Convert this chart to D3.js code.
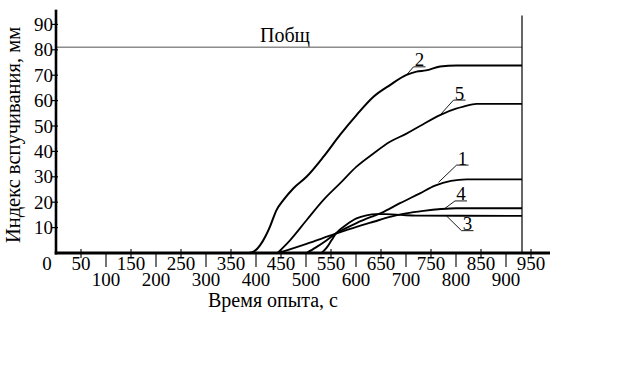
<!DOCTYPE html>
<html>
<head>
<meta charset="utf-8">
<script src="https://cdn.jsdelivr.net/npm/d3@7/dist/d3.min.js"></script>
<style>
  html, body { margin: 0; padding: 0; background: #fff; }
  svg { display: block; }
  text { font-family: "Liberation Serif", "Times New Roman", serif; fill: #000; }
</style>
</head>
<body>
<svg id="chart" width="623" height="367"></svg>
<script>
// ---- data ----
const xTicksTop = [50, 150, 250, 350, 450, 550, 650, 750, 850, 950];
const xTicksBottom = [100, 200, 300, 400, 500, 600, 700, 800, 900];
const yTicks = [10, 20, 30, 40, 50, 60, 70, 80, 90];
const pTotal = 81;          // Побщ level
const tEnd = 932;           // end of the test (right border)

const series2T = [385, 395, 408, 420, 428, 441, 455, 475, 501, 535, 568, 601, 635, 668, 701, 721, 740, 768, 801, 932];
const series2V = [0, 0.5, 3.0, 7.0, 10.4, 16.9, 20.9, 25.5, 30.0, 37.9, 46.5, 54.3, 61.5, 66.1, 70.1, 71.4, 71.9, 73.4, 73.8, 73.8];

const series5T = [443, 468, 501, 535, 568, 601, 635, 668, 701, 728, 768, 800, 815, 841, 932];
const series5V = [0, 5.0, 12.9, 20.9, 27.4, 34.0, 39.2, 43.8, 47.0, 50.0, 54.3, 56.8, 57.6, 58.7, 58.7];

const series1T = [501, 520, 540, 558, 580, 601, 630, 651, 688, 728, 758, 790, 821, 932];
const series1V = [0, 2.2, 4.8, 7.5, 9.8, 11.8, 14.2, 15.8, 19.6, 23.5, 26.5, 28.4, 29.0, 29.0];

const series3T = [531, 541, 551, 560, 580, 601, 621, 640, 660, 690, 720, 932];
const series3V = [0, 2.0, 5.0, 7.7, 11.0, 13.6, 14.8, 15.3, 15.3, 15.0, 14.7, 14.6];

const series4T = [445, 501, 558, 601, 635, 668, 700, 735, 770, 800, 932];
const series4V = [0, 3.6, 7.5, 10.3, 12.3, 14.2, 15.6, 16.6, 17.3, 17.6, 17.6];

const seriesNames = ["2", "5", "1", "3", "4"];
const labelAnchorT = [701, 768, 765, 781, 778];
const labelAnchorV = [70.1, 54.3, 27.8, 14.6, 17.6];
const labelTextT = [715, 795, 801, 811, 798];
const labelTextV = [73.3, 60.2, 34.6, 8.8, 20.5];

const xTitle = "Время опыта, с";
const yTitle = "Индекс вспучивания, мм";
const pLabel = "Побщ";

// ---- drawing ----
const svg = d3.select("#chart");
const x = d3.scaleLinear().domain([0, 950]).range([56, 531]);
const y = d3.scaleLinear().domain([0, 90]).range([253, 24.4]);

// Побщ line
svg.append("line")
  .attr("x1", x(0)).attr("x2", x(tEnd))
  .attr("y1", y(pTotal)).attr("y2", y(pTotal))
  .attr("stroke", "#8c8c8c").attr("stroke-width", 1.6);
svg.append("text").attr("x", 285).attr("y", y(pTotal) - 5)
  .attr("text-anchor", "middle").attr("font-size", 20).text(pLabel);

// right border
svg.append("line")
  .attr("x1", x(tEnd)).attr("x2", x(tEnd))
  .attr("y1", y(93.5)).attr("y2", y(0))
  .attr("stroke", "#000").attr("stroke-width", 1.2);

// curves
const line = d3.line().x(d => x(d[0])).y(d => y(d[1])).curve(d3.curveMonotoneX);
const allSeries = [
  [series2T, series2V, 2.0],
  [series5T, series5V, 1.8],
  [series1T, series1V, 1.9],
  [series3T, series3V, 1.9],
  [series4T, series4V, 1.9]
];
allSeries.forEach(([T, V, w]) => {
  svg.append("path")
    .attr("d", line(T.map((t, i) => [t, V[i]])))
    .attr("fill", "none").attr("stroke", "#000")
    .attr("stroke-width", w).attr("stroke-linejoin", "round");
});

// curve labels with leaders
seriesNames.forEach((n, i) => {
  const ax = x(labelAnchorT[i]), ay = y(labelAnchorV[i]);
  const lx = x(labelTextT[i]), ly = y(labelTextV[i]);
  svg.append("path")
    .attr("d", `M${ax},${ay}L${lx},${ly}L${lx + 12},${ly}`)
    .attr("fill", "none").attr("stroke", "#000").attr("stroke-width", 0.9);
  svg.append("text").attr("x", lx + 6).attr("y", ly - 0.5)
    .attr("text-anchor", "middle").attr("font-size", 19).text(n);
});

// y axis
svg.append("line")
  .attr("x1", x(0)).attr("x2", x(0))
  .attr("y1", y(95.8)).attr("y2", y(0) + 1.5)
  .attr("stroke", "#000").attr("stroke-width", 2.6);
const yg = svg.append("g");
yg.selectAll("line").data(yTicks).join("line")
  .attr("x1", x(0) - 4).attr("x2", x(0) + 2)
  .attr("y1", d => y(d)).attr("y2", d => y(d))
  .attr("stroke", "#000").attr("stroke-width", 1.2);
yg.selectAll("text").data(yTicks).join("text")
  .attr("x", x(0) - 3).attr("y", d => y(d)).attr("dy", "0.35em")
  .attr("text-anchor", "end").attr("font-size", 19).text(d => d);

// x axis
svg.append("line")
  .attr("x1", x(0) - 1.3).attr("x2", x(988))
  .attr("y1", y(0)).attr("y2", y(0))
  .attr("stroke", "#000").attr("stroke-width", 3);
const xg = svg.append("g");
xg.selectAll("line.minor").data(xTicksTop).join("line").attr("class", "minor")
  .attr("x1", d => x(d)).attr("x2", d => x(d))
  .attr("y1", y(0) - 4).attr("y2", y(0) + 5)
  .attr("stroke", "#000").attr("stroke-width", 1.1);
xg.selectAll("line.major").data(xTicksBottom).join("line").attr("class", "major")
  .attr("x1", d => x(d)).attr("x2", d => x(d))
  .attr("y1", y(0)).attr("y2", y(0) + 14)
  .attr("stroke", "#000").attr("stroke-width", 1.1);
xg.selectAll("text.top").data(xTicksTop).join("text").attr("class", "top")
  .attr("x", d => x(d)).attr("y", 270)
  .attr("text-anchor", "middle").attr("font-size", 19).text(d => d);
xg.selectAll("text.bottom").data(xTicksBottom).join("text").attr("class", "bottom")
  .attr("x", d => x(d)).attr("y", 285.5)
  .attr("text-anchor", "middle").attr("font-size", 19).text(d => d);
svg.append("text").attr("x", x(0) - 9).attr("y", 270)
  .attr("text-anchor", "middle").attr("font-size", 19).text(0);

// titles
svg.append("text").attr("x", 273).attr("y", 307)
  .attr("text-anchor", "middle").attr("font-size", 20).text(xTitle);
svg.append("text")
  .attr("transform", "translate(20,135) rotate(-90)")
  .attr("text-anchor", "middle").attr("font-size", 20.5).text(yTitle);
</script>
</body>
</html>
